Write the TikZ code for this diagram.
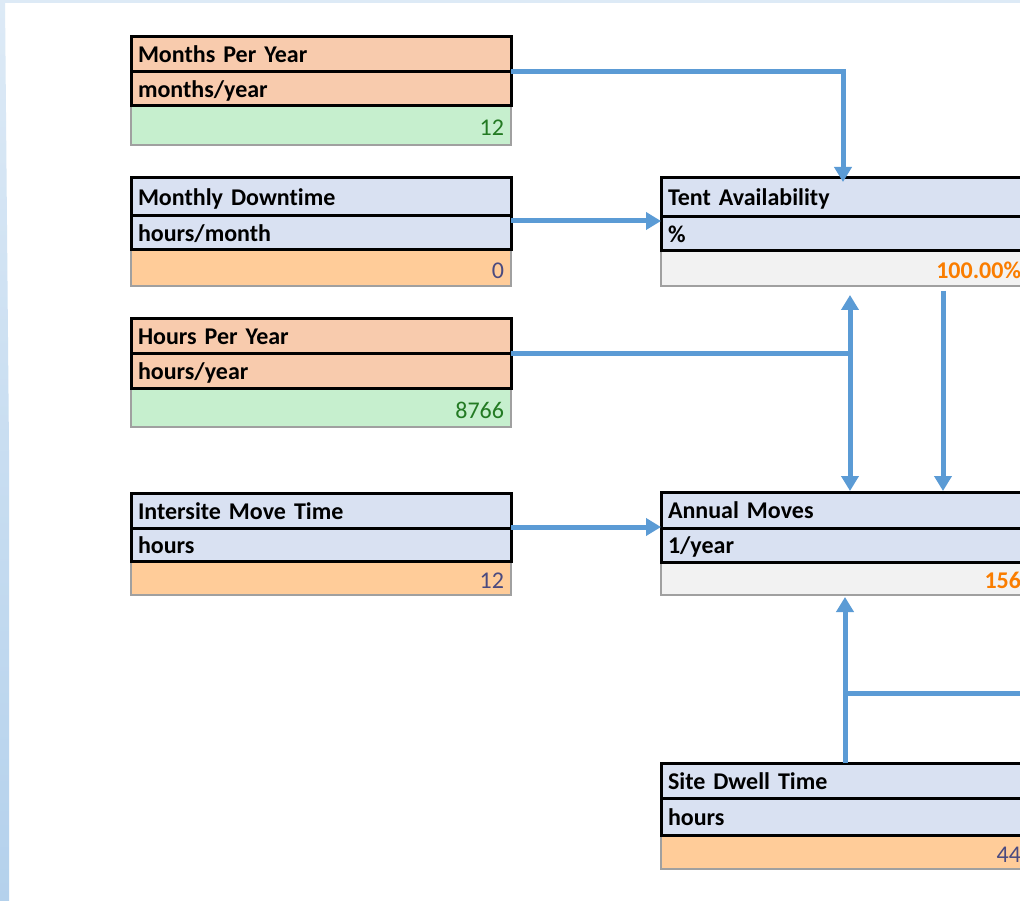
\documentclass[tikz,border=0pt]{standalone}
\usepackage{fontspec}
\setmainfont{Carlito}[Ligatures=NoCommon]
\usetikzlibrary{arrows.meta,calc}
\definecolor{hdorange}{HTML}{F8CBAD}
\definecolor{hdblue}{HTML}{D9E1F2}
\definecolor{goodfill}{HTML}{C6EFCE}
\definecolor{goodtext}{HTML}{237A23}
\definecolor{inputfill}{HTML}{FFCC99}
\definecolor{inputtext}{HTML}{4A4A80}
\definecolor{calcfill}{HTML}{F2F2F2}
\definecolor{calctext}{HTML}{FA7D00}
\definecolor{connc}{HTML}{5B9BD5}
\definecolor{bandtop}{HTML}{DDEAF6}
\definecolor{bandbot}{HTML}{B4D1EC}
\definecolor{cellgray}{HTML}{A0A0A0}
\tikzset{
  cellbase/.style={anchor=north west, inner xsep=7pt, inner ysep=0pt, outer sep=0pt,
    font=\fontsize{24}{28}\selectfont},
  lw/.style={minimum width=380pt, text width=366pt},
  rw/.style={minimum width=367pt, text width=353pt},
  headcell/.style={cellbase, draw=black, line width=3pt, align=left, text height=17pt, text depth=0pt,
    font=\fontsize{24}{28}\selectfont\bfseries},
  valcell/.style={cellbase, draw=cellgray, line width=1.3pt, align=right, text height=21pt, text depth=0pt},
  goodval/.style={valcell, fill=goodfill, text=goodtext},
  inputval/.style={valcell, fill=inputfill, text=inputtext},
  calcval/.style={valcell, fill=calcfill, text=calctext, font=\fontsize{24}{28}\selectfont\bfseries},
  conn/.style={draw=connc, line width=5pt},
  tip/.style={-{Triangle[length=15pt,width=17pt]}},
  tips/.style={{Triangle[length=15pt,width=17pt]}-{Triangle[length=15pt,width=17pt]}},
}
\begin{document}
\begin{tikzpicture}[x=1pt,y=-1pt]
\useasboundingbox (0,0) rectangle (1020,901);
\fill[white] (0,0) rectangle (1020,901);
\fill[bandtop] (0,0) rectangle (1020,3);
\shade[top color=bandtop, bottom color=bandbot] (0,0) -- (5,0) -- (9,450) -- (9,901) -- (0,901) -- cycle;

% Months Per Year
\node[goodval, lw, minimum height=39pt] (mpy-v) at (131,106) {12};
\node[headcell, lw, fill=hdorange, minimum height=35pt] (mpy-t) at (131,37) {Months Per Year};
\node[headcell, lw, fill=hdorange, minimum height=34pt] (mpy-u) at (131,72) {months/year};

% Monthly Downtime
\node[inputval, lw, minimum height=36pt] (md-v) at (131,250) {0};
\node[headcell, lw, fill=hdblue, minimum height=38pt] (md-t) at (131,178) {Monthly Downtime};
\node[headcell, lw, fill=hdblue, minimum height=34pt] (md-u) at (131,216) {hours/month};

% Hours Per Year
\node[goodval, lw, minimum height=39pt] (hpy-v) at (131,388) {8766};
\node[headcell, lw, fill=hdorange, minimum height=34pt] (hpy-t) at (131,319) {Hours Per Year};
\node[headcell, lw, fill=hdorange, minimum height=35pt] (hpy-u) at (131,353) {hours/year};

% Intersite Move Time
\node[inputval, lw, minimum height=34pt] (imt-v) at (131,561) {12};
\node[headcell, lw, fill=hdblue, minimum height=35pt] (imt-t) at (131,493) {Intersite Move Time};
\node[headcell, lw, fill=hdblue, minimum height=33pt] (imt-u) at (131,528) {hours};

% Tent Availability
\node[calcval, rw, minimum height=35pt] (ta-v) at (661,251) {100.00\%};
\node[headcell, rw, fill=hdblue, minimum height=39pt] (ta-t) at (661,178) {Tent Availability};
\node[headcell, rw, fill=hdblue, minimum height=34pt] (ta-u) at (661,217) {\%};

% Annual Moves
\node[calcval, rw, minimum height=34pt] (am-v) at (661,561) {156};
\node[headcell, rw, fill=hdblue, minimum height=36pt] (am-t) at (661,492) {Annual Moves};
\node[headcell, rw, fill=hdblue, minimum height=34pt] (am-u) at (661,528) {1/year};

% Site Dwell Time
\node[inputval, rw, minimum height=34pt] (sdt-v) at (661,835) {44};
\node[headcell, rw, fill=hdblue, minimum height=35pt] (sdt-t) at (661,763) {Site Dwell Time};
\node[headcell, rw, fill=hdblue, minimum height=37pt] (sdt-u) at (661,798) {hours};

% connectors
\draw[conn, tip] (mpy-t.south east) -| ($(ta-t.north west)+(182,4)$);
\draw[conn, tip] ($(md-u.north east)+(0,5)$) -- ($(ta-u.north west)+(0,4)$);
\coordinate (hj) at (850,353);
\draw[conn] (hpy-t.south east) -- (hj);
\draw[conn, tips] ($(ta-v.south west)+(189,9)$) -- ($(am-t.north west)+(189,-1)$);
\draw[conn, tip] ($(ta-v.south west)+(282,5)$) -- ($(am-t.north west)+(282,-1)$);
\draw[conn, tip] ($(imt-u.north east)+(0,-1)$) -- ($(am-u.north west)+(0,-1)$);
\draw[conn, tip] (sdt-t.north west -| 845,0) -- ($(am-v.south west)+(184,2)$);
\coordinate (sdj) at (845,693);
\coordinate (sdr) at (1030,693);
\draw[conn] (sdj) -- (sdr);
\end{tikzpicture}
\end{document}
